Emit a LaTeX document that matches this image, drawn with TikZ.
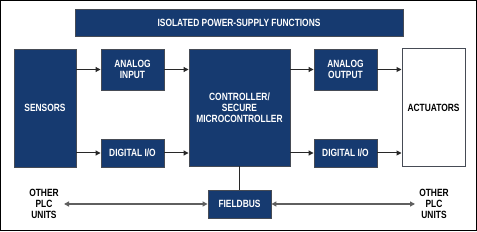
\documentclass[tikz,border=0pt]{standalone}
\usepackage{fontspec}
\setmainfont{Liberation Sans}[FakeStretch=0.8]
\usetikzlibrary{arrows.meta}
\definecolor{navy}{RGB}{22,58,112}
\definecolor{edge}{RGB}{70,75,85}
\definecolor{wire}{RGB}{40,40,40}
\definecolor{bus}{RGB}{95,95,95}
\tikzset{
  blk/.style={draw=edge, line width=0.9pt, fill=navy, text=white, font=\bfseries\fontsize{10.5}{11}\selectfont, align=center, inner sep=0pt},
  wblk/.style={draw=edge, line width=1pt, fill=white, text=black, font=\bfseries\fontsize{10.5}{11}\selectfont, align=center, inner sep=0pt},
  lbl/.style={text=black, font=\bfseries\fontsize{10.5}{11}\selectfont, align=center, inner sep=0pt},
  arr/.style={draw=wire, line width=1pt, -{Triangle[length=5pt,width=5pt]}},
  barr/.style={draw=bus, line width=1.2pt, {Triangle[length=5pt,width=5pt]}-{Triangle[length=5pt,width=5pt]}},
  ln/.style={draw=wire, line width=1pt}
}
\begin{document}
\begin{tikzpicture}[x=1pt,y=-1pt]
\useasboundingbox (0,0) rectangle (477,232);
\draw[black, line width=1pt] (0.5,0.5) rectangle (476,231);
% boxes
\node[blk, minimum width=328pt, minimum height=27pt] (top) at (239,22.5) {ISOLATED POWER-SUPPLY FUNCTIONS};
\node[blk, minimum width=62pt, minimum height=118pt] (sens) at (45,108) {SENSORS};
\node[blk, minimum width=63pt, minimum height=41pt] (ain) at (132.5,69.5) {ANALOG\\INPUT};
\node[blk, minimum width=63pt, minimum height=28pt] (dio1) at (132.5,153) {DIGITAL I/O};
\node[blk, minimum width=101pt, minimum height=117pt] (ctrl) at (239.5,107.5) {CONTROLLER/\\SECURE\\MICROCONTROLLER};
\node[blk, minimum width=63pt, minimum height=41pt] (aout) at (345.5,69.5) {ANALOG\\OUTPUT};
\node[blk, minimum width=63pt, minimum height=28pt] (dio2) at (345.5,153) {DIGITAL I/O};
\node[wblk, minimum width=63pt, minimum height=118pt] (act) at (433.5,108) {ACTUATORS};
\node[blk, minimum width=63pt, minimum height=28pt] (fb) at (239.5,204) {FIELDBUS};
\node[lbl] (plcl) at (44,203.5) {OTHER\\PLC\\UNITS};
\node[lbl] (plcr) at (434,203.5) {OTHER\\PLC\\UNITS};
\coordinate (pl) at (64,204);
\coordinate (pr) at (415,204);
% connectors
\draw[arr] (sens.east |- ain.west) -- (ain.west);
\draw[arr] (ain.east) -- (ain.east -| ctrl.west);
\draw[arr] (ctrl.east |- aout.west) -- (aout.west);
\draw[arr] (aout.east) -- (aout.east -| act.west);
\draw[arr] (sens.east |- dio1.west) -- (dio1.west);
\draw[arr] (dio1.east) -- (dio1.east -| ctrl.west);
\draw[arr] (ctrl.east |- dio2.west) -- (dio2.west);
\draw[arr] (dio2.east) -- (dio2.east -| act.west);
\draw[ln] (ctrl.south) -- (fb.north);
\draw[barr] (pl) -- (fb.west);
\draw[barr] (fb.east) -- (pr);
\end{tikzpicture}
\end{document}
